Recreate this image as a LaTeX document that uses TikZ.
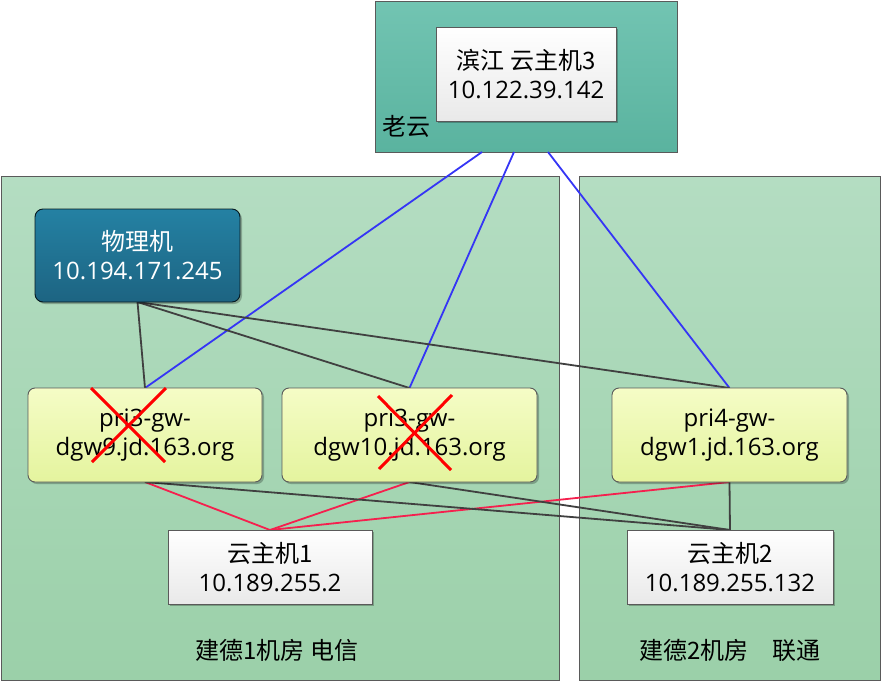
\documentclass[tikz,border=0pt]{standalone}
\usepackage{fontspec}
\setmainfont{Open Sans}
\newfontfamily\cjk{Noto Sans CJK SC}
\usetikzlibrary{calc,shadows}

\definecolor{cloudtop}{HTML}{72C4B2}
\definecolor{cloudbot}{HTML}{5AB39F}
\definecolor{roomtop}{HTML}{B4DDC2}
\definecolor{roombot}{HTML}{9BD0A9}
\definecolor{hosttop}{HTML}{2481A3}
\definecolor{hostbot}{HTML}{1D6482}
\definecolor{gwtop}{HTML}{F5FCC6}
\definecolor{gwbot}{HTML}{E4F49E}
\definecolor{vmbot}{HTML}{E9E9E9}
\definecolor{edge}{HTML}{5A5A5A}
\definecolor{linkblue}{HTML}{3535F5}
\definecolor{linkgray}{HTML}{404040}
\definecolor{linkred}{HTML}{F5204E}

\pgfdeclarelayer{back}
\pgfdeclarelayer{links}
\pgfsetlayers{back,links,main}

\tikzset{
  region/.style={draw=edge, line width=0.9pt, inner sep=0pt, outer sep=0pt,
    top color=roomtop, bottom color=roombot},
  boxshadow/.style={drop shadow={shadow xshift=2pt, shadow yshift=-2pt,
    opacity=0.25, fill=black}},
  vmbox/.style={draw=edge, line width=0.9pt, inner sep=0pt, outer sep=0pt,
    top color=white, bottom color=vmbot, align=center, boxshadow},
  gwbox/.style={draw=edge, line width=0.9pt, rounded corners=7pt, inner sep=0pt,
    outer sep=0pt, top color=gwtop, bottom color=gwbot, align=center,
    minimum width=234pt, minimum height=94pt, boxshadow},
  hostbox/.style={draw=black!75!hostbot, line width=0.9pt, rounded corners=8pt,
    inner sep=0pt, outer sep=0pt, top color=hosttop, bottom color=hostbot,
    text=white, align=center, minimum width=205pt, minimum height=93pt, boxshadow},
  bluelink/.style={draw=linkblue, line width=1.8pt},
  graylink/.style={draw=linkgray, line width=1.8pt},
  redlink/.style={draw=linkred, line width=1.8pt},
  cross/.style={draw=red, line width=3pt},
}

\begin{document}
\begin{tikzpicture}[x=1pt, y=-1pt, font=\fontsize{24}{29}\selectfont]
\useasboundingbox (0,0) rectangle (884,683);

% cloud region and the two machine rooms
\begin{pgfonlayer}{back}
\node[region, top color=cloudtop, bottom color=cloudbot,
      minimum width=302pt, minimum height=151pt] (cloud) at (526,76.5) {};
\node[region, minimum width=558pt, minimum height=504pt] (room1) at (280,428) {};
\node[region, minimum width=301pt, minimum height=504pt] (room2) at (729.5,428) {};
\node[anchor=west, inner sep=0pt] (cloudlbl) at (382,126) {\cjk 老云};
\node[inner sep=0pt] (room1lbl) at (277,650) {\cjk 建德1机房 电信};
\node[inner sep=0pt] (room2lbl) at (730,650) {\cjk 建德2机房　联通};
\end{pgfonlayer}

% boxes
\node[vmbox, minimum width=180pt, minimum height=94pt] (vm3) at (526,74)
  {{\cjk 滨江 云主机3}\\10.122.39.142};
\node[hostbox] (host) at (137.5,255.5) {{\cjk 物理机}\\10.194.171.245};
\node[gwbox] (gw9) at (145,435) {pri3-gw-\\dgw9.jd.163.org};
\node[gwbox, minimum width=255pt] (gw10) at (409.5,435) {pri3-gw-\\dgw10.jd.163.org};
\node[gwbox, minimum width=235pt] (gw1) at (729.5,435) {pri4-gw-\\dgw1.jd.163.org};
\node[vmbox, minimum width=204pt, minimum height=74pt] (vm1) at (270,567)
  {{\cjk 云主机1}\\10.189.255.2};
\node[vmbox, minimum width=206pt, minimum height=74pt] (vm2) at (730,567)
  {{\cjk 云主机2}\\10.189.255.132};

% exits on the lower edge of the cloud region
\coordinate (cA) at ($(cloud.south)+(-44,0)$);
\coordinate (cB) at ($(cloud.south)+(-12,0)$);
\coordinate (cC) at ($(cloud.south)+(22,0)$);

% connectors, kept underneath the boxes
\begin{pgfonlayer}{links}
\draw[bluelink] (cA) -- (gw9.north);
\draw[bluelink] (cB) -- (gw10.north);
\draw[bluelink] (cC) -- (gw1.north);
\draw[graylink] (host.south) -- (gw9.north);
\draw[graylink] (host.south) -- (gw10.north);
\draw[graylink] (host.south) -- (gw1.north);
\draw[redlink] (vm1.north) -- (gw9.south);
\draw[redlink] (vm1.north) -- (gw10.south);
\draw[redlink] (vm1.north) -- (gw1.south);
\draw[graylink] (vm2.north) -- (gw9.south);
\draw[graylink] (vm2.north) -- (gw10.south);
\draw[graylink] (vm2.north) -- (gw1.south);
\end{pgfonlayer}

% gateways taken out of service
\coordinate (x9) at (128,425);
\coordinate (x10) at (415,433);
\draw[cross] ($(x9)+(-37,-37)$) -- ($(x9)+(37,37)$);
\draw[cross] ($(x9)+(38,-37)$) -- ($(x9)+(-36,37)$);
\draw[cross] ($(x10)+(-37,-37)$) -- ($(x10)+(36,37)$);
\draw[cross] ($(x10)+(37,-38)$) -- ($(x10)+(-36,36)$);
\end{tikzpicture}
\end{document}
